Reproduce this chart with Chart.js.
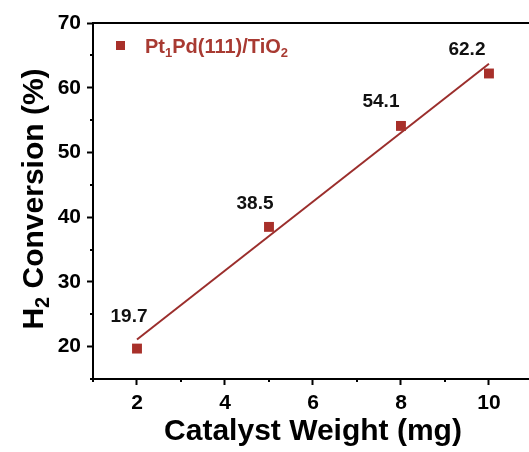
<!DOCTYPE html>
<html>
<head>
<meta charset="utf-8">
<script src="https://cdn.jsdelivr.net/npm/chart.js@4/dist/chart.umd.min.js"></script>
<style>
  html, body { margin: 0; padding: 0; overflow: hidden; background: #fff; }
  canvas { display: block; }
</style>
</head>
<body>
<canvas id="c" width="529" height="452"></canvas>
<script>
// Measured H2 conversion vs. catalyst loading
const weights = [2, 5, 8, 10];
const conversions = [19.7, 38.5, 54.1, 62.2];
// Linear fit endpoints
const fitWeights = [2, 10];
const fitConversions = [21.1, 63.7];
// Axis ticks
const xTickValues = [2, 4, 6, 8, 10];
const yTickValues = [20, 30, 40, 50, 60, 70];
const xMinorValues = [1, 3, 5, 7, 9];
const yMinorValues = [15, 25, 35, 45, 55, 65];

const markerColor = '#A8302A';
const fitColor = '#9B2E2C';
const FONT = '"Liberation Sans", Arial, Helvetica, sans-serif';

// Offsets of each value label relative to its marker
const labelOffsets = [[-8, -32], [-14, -23], [-20, -24], [-22, -24]];

const decorations = {
  id: 'decorations',
  afterDatasetsDraw(chart) {
    const ctx = chart.ctx;
    const { left, right, top, bottom } = chart.chartArea;
    const xs = chart.scales.x, ys = chart.scales.y;
    ctx.save();
    ctx.strokeStyle = '#000';
    ctx.lineWidth = 2;
    // top frame line; the box continues past the right edge of the canvas
    ctx.beginPath();
    ctx.moveTo(left - 1, top);
    ctx.lineTo(right + 2, top);
    ctx.stroke();
    // minor ticks
    ctx.beginPath();
    xMinorValues.forEach(v => {
      const px = Math.round(xs.getPixelForValue(v));
      ctx.moveTo(px, bottom); ctx.lineTo(px, bottom + 3);
    });
    yMinorValues.forEach(v => {
      const py = Math.round(ys.getPixelForValue(v));
      ctx.moveTo(left, py); ctx.lineTo(left - 3, py);
    });
    ctx.stroke();

    // value labels
    const meta = chart.getDatasetMeta(0);
    ctx.fillStyle = '#111';
    ctx.font = 'bold 19px ' + FONT;
    ctx.textAlign = 'center';
    ctx.textBaseline = 'middle';
    meta.data.forEach((pt, i) => {
      const [dx, dy] = labelOffsets[i];
      ctx.fillText(conversions[i].toFixed(1), pt.x + dx, pt.y + dy);
    });

    // legend
    ctx.fillStyle = markerColor;
    ctx.fillRect(116, 41, 9, 9);
    ctx.fillStyle = '#A83A32';
    ctx.textAlign = 'left';
    ctx.textBaseline = 'alphabetic';
    let x = 145;
    const base = 53;
    const parts = [['Pt', false], ['1', true], ['Pd(111)/TiO', false], ['2', true]];
    parts.forEach(([t, sub]) => {
      ctx.font = (sub ? 'bold 13px ' : 'bold 20px ') + FONT;
      ctx.fillText(t, x, sub ? base + 4 : base);
      x += ctx.measureText(t).width;
    });

    // x axis title
    ctx.fillStyle = '#000';
    ctx.font = 'bold 30px ' + FONT;
    ctx.textAlign = 'center';
    ctx.textBaseline = 'middle';
    ctx.fillText('Catalyst Weight (mg)', 313, 432);

    // y axis title with subscript
    ctx.translate(32, 199);
    ctx.rotate(-Math.PI / 2);
    const yParts = [['H', false], ['2', true], [' Conversion (%)', false]];
    let total = 0;
    yParts.forEach(([t, sub]) => {
      ctx.font = (sub ? 'bold 20px ' : 'bold 30px ') + FONT;
      total += ctx.measureText(t).width;
    });
    let cx = -total / 2;
    ctx.textAlign = 'left';
    ctx.textBaseline = 'alphabetic';
    yParts.forEach(([t, sub]) => {
      ctx.font = (sub ? 'bold 20px ' : 'bold 30px ') + FONT;
      ctx.fillText(t, cx, sub ? 17 : 11);
      cx += ctx.measureText(t).width;
    });
    ctx.restore();
  }
};

const axisCommon = {
  type: 'linear',
  grid: { drawOnChartArea: false, drawTicks: true, tickLength: 6, tickWidth: 2, color: '#000', tickColor: '#000' },
  border: { display: true, color: '#000', width: 2 },
  ticks: { color: '#000', font: { family: FONT, size: 21, weight: 'bold' }, autoSkip: false, maxRotation: 0 }
};

new Chart(document.getElementById('c'), {
  data: {
    datasets: [
      {
        type: 'scatter',
        label: 'Pt1Pd(111)/TiO2',
        data: weights.map((w, i) => ({ x: w, y: conversions[i] })),
        pointStyle: 'rect',
        pointRadius: 7,
        pointHoverRadius: 7,
        backgroundColor: markerColor,
        borderColor: markerColor,
        borderWidth: 0,
        order: 0
      },
      {
        type: 'line',
        label: 'fit',
        data: fitWeights.map((w, i) => ({ x: w, y: fitConversions[i] })),
        borderColor: fitColor,
        borderWidth: 2,
        pointRadius: 0,
        fill: false,
        order: 1
      }
    ]
  },
  options: {
    responsive: false,
    devicePixelRatio: 1,
    animation: false,
    layout: { autoPadding: false, padding: { top: 23, right: 0, left: 0, bottom: 0 } },
    plugins: { legend: { display: false }, tooltip: { enabled: false } },
    scales: {
      x: {
        ...axisCommon,
        min: 1, max: 10.91,
        ticks: { ...axisCommon.ticks, padding: 6 },
        afterBuildTicks(s) { s.ticks = xTickValues.map(v => ({ value: v })); },
        afterFit(s) { s.height = 73; s.paddingLeft = 0; s.paddingRight = 0; }
      },
      y: {
        ...axisCommon,
        min: 15, max: 70,
        ticks: { ...axisCommon.ticks, padding: 6 },
        afterBuildTicks(s) { s.ticks = yTickValues.map(v => ({ value: v })); },
        afterFit(s) { s.width = 93; s.paddingTop = 0; s.paddingBottom = 0; }
      }
    }
  },
  plugins: [decorations]
});
</script>
</body>
</html>
